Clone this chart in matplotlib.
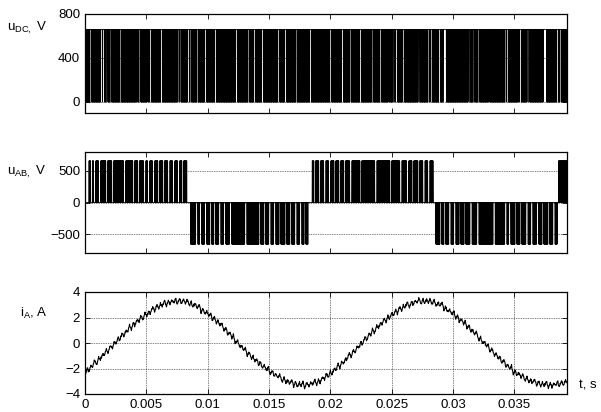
import numpy as np
import matplotlib
matplotlib.use("Agg")
import matplotlib.pyplot as plt

plt.rcParams['font.family'] = ['Liberation Sans', 'DejaVu Sans']
plt.rcParams['mathtext.fontset'] = 'custom'
plt.rcParams['mathtext.rm'] = 'Liberation Sans'
plt.rcParams['mathtext.it'] = 'Liberation Sans'

# -----------------------------------------
# values (times in ms)
# -----------------------------------------
t_end_ms = 39.3
u_level = 660.0

# u_DC: instants where the pulse train stays high (white lines)
dc_hold_ms = [0.42, 1.28, 1.44, 1.73, 2.06, 2.83, 4.19, 4.40, 5.07, 5.28, 6.16, 7.52,
              7.70, 8.38, 8.58, 9.11, 9.76, 10.58, 12.29, 13.27, 13.76, 14.41, 15.72,
              16.29, 17.19, 18.33, 19.96, 20.94, 21.59, 22.41, 23.39, 24.04, 24.71,
              25.12, 25.34, 25.89, 27.16, 27.98, 28.17, 28.85, 29.20, 29.34, 31.24,
              31.65, 32.06, 32.87, 34.23, 34.37, 35.32, 35.46, 36.00, 36.13, 37.36,
              37.50, 38.45, 38.72]
dc_hold_width_ms = 0.12

# u_AB: polarity blocks
ab_block_start_ms = [0.3, 8.6, 18.5, 28.6, 38.6]
ab_block_end_ms = [8.3, 18.2, 28.4, 38.5, 39.3]
ab_block_sign = [1, -1, 1, -1, 1]

# u_AB: zero intervals inside the blocks (white gaps)
ab_gap_ms = [0.46, 0.71, 1.12, 1.69, 2.18, 3.16, 3.89, 4.30, 4.79, 5.11, 5.52, 5.93,
             6.34, 6.75, 7.16, 7.56, 7.89,
             9.03, 9.36, 9.76, 10.17, 10.50, 10.91, 11.31, 11.80, 13.03, 14.17, 14.58,
             14.99, 15.40, 15.81, 16.30, 16.70, 17.11, 17.52, 17.85,
             18.66, 19.06, 19.47, 19.88, 20.29, 20.69, 21.10, 21.59, 22.41, 23.63,
             24.85, 25.67, 26.24, 26.65, 27.14, 27.55, 27.96,
             28.93, 29.26, 29.67, 30.08, 30.49, 30.90, 31.39, 31.96, 33.27, 34.23,
             34.56, 35.05, 35.46, 35.95, 36.35, 36.84, 37.25, 37.74, 38.15]
ab_gap_width_ms = 0.15

# i_A: mean current, one value per ms
ia_t_ms = [0, 1, 2, 3, 4, 5, 6, 7, 8, 9, 10, 11, 12, 13, 14, 15, 16, 17, 18, 19,
           20, 21, 22, 23, 24, 25, 26, 27, 28, 29, 30, 31, 32, 33, 34, 35, 36, 37,
           38, 39, 39.3]
ia_mean = [-2.35, -1.4, -0.45, 0.55, 1.5, 2.25, 2.9, 3.25, 3.3, 2.95, 2.3, 1.5, 0.5,
           -0.55, -1.45, -2.15, -2.8, -3.2, -3.3, -3.05, -2.4, -1.55, -0.6, 0.45, 1.4,
           2.2, 2.85, 3.25, 3.3, 3.0, 2.3, 1.5, 0.55, -0.45, -1.4, -2.25, -2.85, -3.2,
           -3.3, -3.15, -3.0]
# i_A: ripple teeth (length in ms, peak-to-peak in A), coarse and fine
tooth_ms = [0.32, 0.27, 0.36, 0.30, 0.34, 0.26, 0.38, 0.31, 0.29, 0.35, 0.28]
tooth_pp = [0.45, 0.30, 0.55, 0.35, 0.25, 0.50, 0.40, 0.30, 0.45]
fine_ms = [0.09, 0.07, 0.11, 0.08, 0.10, 0.06, 0.12]
fine_pp = [0.15, 0.08, 0.20, 0.10, 0.14, 0.06]


def teeth(lengths, heights, rise):
    tv, vv = [0.0], [-heights[0] / 2]
    k = 0
    while tv[-1] < t_end_ms + 1:
        L = lengths[k % len(lengths)]
        pp = heights[k % len(heights)]
        tv.append(tv[-1] + rise * L); vv.append(pp / 2)
        tv.append(tv[-1] + (1 - rise) * L); vv.append(-pp / 2)
        k += 1
    return tv, vv


# -----------------------------------------
# build the traces
# -----------------------------------------
dt = 0.0025  # ms
t_ms = np.arange(0, t_end_ms + dt, dt)
half_ms = 0.02
base = (np.floor(t_ms / half_ms) % 2 == 0).astype(float)

u_dc = base.copy()
for g in dc_hold_ms:
    u_dc[(t_ms >= g) & (t_ms < g + dc_hold_width_ms)] = 1.0
u_dc *= u_level

u_ab = np.zeros_like(t_ms)
for a, b, s in zip(ab_block_start_ms, ab_block_end_ms, ab_block_sign):
    m = (t_ms >= a) & (t_ms < b)
    u_ab[m] = s * u_level * base[m]
for g in ab_gap_ms:
    u_ab[(t_ms >= g) & (t_ms < g + ab_gap_width_ms)] = 0.0

tv1, vv1 = teeth(tooth_ms, tooth_pp, 0.55)
tv2, vv2 = teeth(fine_ms, fine_pp, 0.5)
i_a = (np.interp(t_ms, ia_t_ms, ia_mean) + np.interp(t_ms, tv1, vv1)
       + np.interp(t_ms, tv2, vv2))

t_s = t_ms / 1000.0

# -----------------------------------------
# figure
# -----------------------------------------
fig = plt.figure(figsize=(6.01, 4.12), dpi=100)
left, width = 85 / 601, 482 / 601
ax1 = fig.add_axes([left, 1 - 113 / 412, width, 99 / 412])
ax2 = fig.add_axes([left, 1 - 253 / 412, width, 101 / 412])
ax3 = fig.add_axes([left, 1 - 394 / 412, width, 102 / 412])

grid_kw = dict(color='k', linestyle=(0, (1, 1.5)), linewidth=0.5)

ax1.plot(t_s, u_dc, color='k', linewidth=0.6)
ax1.set_ylim(-100, 800)
ax1.set_yticks([0, 400, 800])
ax1.yaxis.grid(True, **grid_kw)

ax2.plot(t_s, u_ab, color='k', linewidth=0.6)
ax2.set_ylim(-800, 800)
ax2.set_yticks([-500, 0, 500])
ax2.yaxis.grid(True, **grid_kw)

ax3.plot(t_s, i_a, color='k', linewidth=0.8)
ax3.set_ylim(-4, 4)
ax3.set_yticks([-4, -2, 0, 2, 4])
ax3.grid(True, **grid_kw)

xt = [0, 0.005, 0.01, 0.015, 0.02, 0.025, 0.03, 0.035]
for ax in (ax1, ax2, ax3):
    ax.set_xlim(0, t_end_ms / 1000.0)
    ax.set_xticks(xt)
    ax.set_axisbelow(True)
    ax.tick_params(direction='in', top=True, right=True, length=3.5, width=0.6,
                   labelsize=9.5, pad=3.5)
    for sp in ax.spines.values():
        sp.set_linewidth(0.9)
ax1.set_xticklabels([])
ax2.set_xticklabels([])
ax3.set_xticklabels(['0', '0.005', '0.01', '0.015', '0.02', '0.025', '0.03', '0.035'])

fig.text(7 / 601, 1 - 31 / 412, r'u$_{\mathrm{DC},}$ V', fontsize=9.5, va='baseline')
fig.text(7 / 601, 1 - 175 / 412, r'u$_{\mathrm{AB},}$ V', fontsize=9.5, va='baseline')
fig.text(20 / 601, 1 - 317 / 412, r'i$_{\mathrm{A}}$, A', fontsize=9.5, va='baseline')
fig.text(579 / 601, 1 - 388 / 412, 't, s', fontsize=9.5, va='baseline')

fig.savefig('out.png', dpi=100)
